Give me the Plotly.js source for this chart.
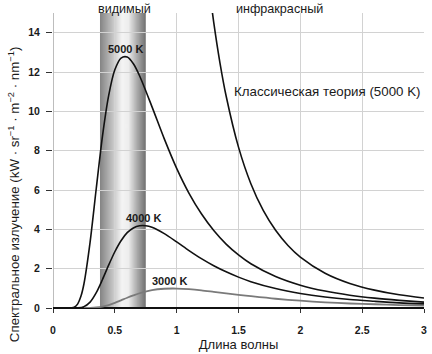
<!DOCTYPE html>
<html>
<head>
<meta charset="utf-8">
<script src="https://cdn.plot.ly/plotly-3.0.1.min.js"></script>
<style>html,body{margin:0;padding:0;background:#fff}#chart{width:432px;height:354px}</style>
</head>
<body>
<div id="chart"></div>
<script>
// Wavelength (µm) and spectral radiance (kW·sr⁻¹·m⁻²·nm⁻¹)
const x5000 = [0.1, 0.15, 0.175, 0.2, 0.225, 0.25, 0.3, 0.35, 0.4, 0.45, 0.5, 0.55, 0.6, 0.65, 0.7, 0.8, 0.9, 1.0, 1.1, 1.2, 1.3, 1.4, 1.5, 1.6, 1.8, 2.0, 2.2, 2.4, 2.6, 2.8, 3.0];
const y5000 = [0, 0.007, 0.052, 0.21, 0.58, 1.22, 3.35, 6.09, 8.74, 10.80, 12.11, 12.71, 12.76, 12.42, 11.81, 10.24, 8.60, 7.10, 5.83, 4.79, 3.94, 3.25, 2.70, 2.25, 1.60, 1.16, 0.86, 0.65, 0.50, 0.39, 0.30];

const x4000 = [0.15, 0.2, 0.25, 0.3, 0.35, 0.4, 0.45, 0.5, 0.55, 0.6, 0.65, 0.7, 0.75, 0.8, 0.9, 1.0, 1.1, 1.2, 1.3, 1.4, 1.5, 1.6, 1.8, 2.0, 2.2, 2.4, 2.6, 2.8, 3.0];
const y4000 = [0, 0.006, 0.069, 0.30, 0.78, 1.45, 2.18, 2.86, 3.42, 3.83, 4.07, 4.18, 4.18, 4.10, 3.78, 3.36, 2.92, 2.51, 2.15, 1.84, 1.57, 1.34, 0.99, 0.74, 0.56, 0.43, 0.34, 0.26, 0.21];

const x3000 = [0.25, 0.3, 0.35, 0.4, 0.45, 0.5, 0.55, 0.6, 0.65, 0.7, 0.8, 0.9, 1.0, 1.1, 1.2, 1.3, 1.4, 1.5, 1.6, 1.8, 2.0, 2.2, 2.4, 2.6, 2.8, 3.0];
const y3000 = [0, 0.006, 0.025, 0.072, 0.15, 0.26, 0.39, 0.52, 0.64, 0.75, 0.91, 0.98, 0.99, 0.96, 0.90, 0.82, 0.74, 0.67, 0.60, 0.47, 0.37, 0.29, 0.23, 0.19, 0.15, 0.12];

const xClassic = [1.25, 1.3, 1.35, 1.4, 1.5, 1.6, 1.7, 1.8, 1.9, 2.0, 2.2, 2.4, 2.6, 2.8, 3.0];
const yClassic = [16.97, 14.51, 12.47, 10.78, 8.18, 6.32, 4.96, 3.95, 3.18, 2.59, 1.77, 1.25, 0.91, 0.67, 0.51];

// Visible band (µm) and its shading profile
const bandRange = [0.38, 0.75];
const bandStops = [0, 0.22, 0.48, 0.62, 0.82, 1];
const bandGrays = [132, 182, 244, 238, 168, 112];

const xTicks = [0, 0.5, 1, 1.5, 2, 2.5, 3];
const yTicks = [0, 2, 4, 6, 8, 10, 12, 14];

const curveLabels = ['5000 K', '4000 K', '3000 K'];
const curveLabelX = [0.594, 0.736, 0.946];
const curveLabelY = [13.19, 4.57, 1.39];

const FONT = '"Liberation Sans", Arial, sans-serif';

function bandImage() {
  const c = document.createElement('canvas');
  c.width = 256; c.height = 4;
  const ctx = c.getContext('2d');
  const g = ctx.createLinearGradient(0, 0, 256, 0);
  bandStops.forEach((s, i) => {
    const v = bandGrays[i];
    g.addColorStop(s, `rgb(${v},${v},${v})`);
  });
  ctx.fillStyle = g;
  ctx.fillRect(0, 0, 256, 4);
  return c.toDataURL('image/png');
}

const line = (x, y, color, w) => ({
  type: 'scatter', mode: 'lines', x: x, y: y,
  line: {color: color, width: w, shape: 'spline', smoothing: 0.8},
  hoverinfo: 'skip', showlegend: false
});

const data = [
  line(x3000, y3000, '#7a7a7a', 1.8),
  line(x4000, y4000, '#111111', 1.6),
  line(x5000, y5000, '#111111', 1.6),
  line(xClassic, yClassic, '#111111', 1.6)
];

const annotations = curveLabels.map((t, i) => ({
  x: curveLabelX[i], y: curveLabelY[i], xref: 'x', yref: 'y',
  text: t, showarrow: false, xanchor: 'center', yanchor: 'middle',
  font: {family: FONT, size: 11, color: '#1a1a1a', weight: 'bold'}
}));
annotations.push(
  {x: 1.447, y: 11.03, xref: 'x', yref: 'y', text: 'Классическая теория (5000 K)',
   showarrow: false, xanchor: 'left', yanchor: 'middle',
   font: {family: FONT, size: 13.3, color: '#1a1a1a'}},
  {x: 0.578, y: 1.044, xref: 'x', yref: 'paper', text: 'видимый',
   showarrow: false, xanchor: 'center', yanchor: 'top',
   font: {family: FONT, size: 12.6, color: '#1a1a1a'}},
  {x: 1.835, y: 1.044, xref: 'x', yref: 'paper', text: 'инфракрасный',
   showarrow: false, xanchor: 'center', yanchor: 'top',
   font: {family: FONT, size: 12.6, color: '#1a1a1a'}},
  {x: -0.105, y: 0.386, xref: 'paper', yref: 'paper', textangle: -90,
   text: 'Спектральное излучение (kW · sr<sup>−1</sup> · m<sup>−2</sup> · nm<sup>−1</sup>)',
   showarrow: false, xanchor: 'center', yanchor: 'middle',
   font: {family: FONT, size: 13.3, color: '#1a1a1a'}}
);

const layout = {
  width: 432, height: 354,
  margin: {l: 53, r: 8, t: 13, b: 46, pad: 0},
  paper_bgcolor: '#ffffff', plot_bgcolor: '#ffffff',
  font: {family: FONT, color: '#1a1a1a'},
  xaxis: {
    range: [0, 3], tickvals: xTicks, ticktext: xTicks.map(String),
    ticks: 'outside', ticklen: 4, tickwidth: 1, tickcolor: '#333',
    ticklabelstandoff: 8,
    showgrid: true, gridcolor: '#d2d2d2', gridwidth: 1,
    zeroline: true, zerolinecolor: '#bdbdbd', zerolinewidth: 1,
    showline: false,
    tickfont: {family: FONT, size: 10.5, color: '#1a1a1a', weight: 'bold'},
    title: {text: 'Длина волны', font: {family: FONT, size: 13, color: '#1a1a1a'}, standoff: 5},
    fixedrange: true
  },
  yaxis: {
    range: [0, 15], tickvals: yTicks, ticktext: yTicks.map(String),
    ticks: 'outside', ticklen: 6, tickwidth: 1, tickcolor: '#333',
    ticklabelstandoff: 4,
    showgrid: true, gridcolor: '#d2d2d2', gridwidth: 1,
    zeroline: true, zerolinecolor: '#111111', zerolinewidth: 2,
    showline: false,
    tickfont: {family: FONT, size: 10.5, color: '#1a1a1a', weight: 'bold'},
    fixedrange: true
  },
  images: [{
    source: bandImage(), xref: 'x', yref: 'y',
    x: bandRange[0], y: 15, sizex: bandRange[1] - bandRange[0], sizey: 15,
    xanchor: 'left', yanchor: 'top', sizing: 'stretch', layer: 'below'
  }],
  annotations: annotations,
  showlegend: false
};

Plotly.newPlot('chart', data, layout, {displayModeBar: false, staticPlot: true});
</script>
</body>
</html>
